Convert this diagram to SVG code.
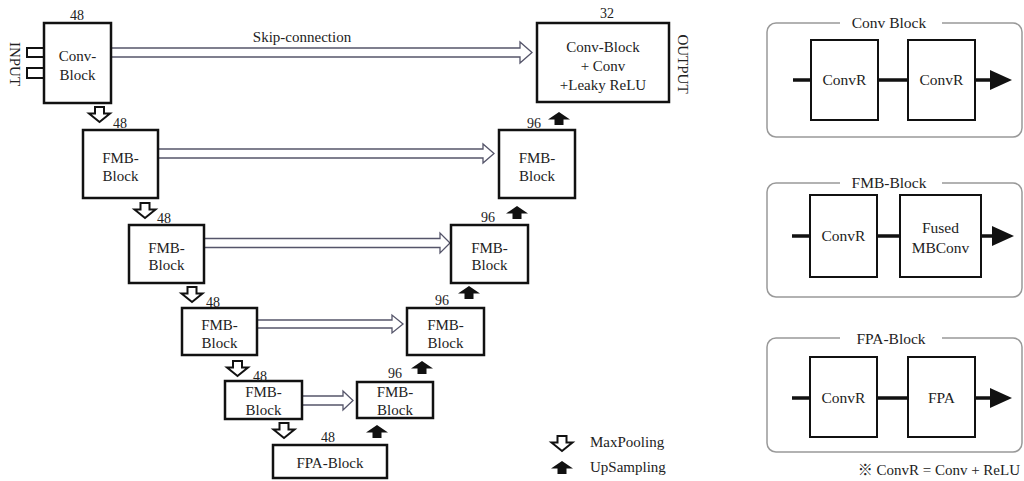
<svg xmlns="http://www.w3.org/2000/svg" xmlns:xlink="http://www.w3.org/1999/xlink" width="1024" height="481" viewBox="0 0 1024 481">
<style>
text{font-family:'Liberation Serif','Times New Roman','DejaVu Serif',serif;fill:#222;}
.cjk{font-family:'Noto Sans CJK JP','Liberation Serif',serif;}
.t{font-size:15px;text-anchor:middle;}
.n{font-size:14px;text-anchor:middle;}
.p{font-size:15.5px;text-anchor:middle;}
.box{fill:#fff;stroke:#111;stroke-width:2.5;}
.pbox{fill:#fff;stroke:#111;stroke-width:2;}
.skip{fill:#fff;stroke:#55556a;stroke-width:1.3;}
.panel{fill:none;stroke:#999;stroke-width:1.5;}
.wire{stroke:#111;stroke-width:3.5;fill:none;}
</style>
<defs>
<path id="down" d="M-4.5,0 H4.5 V6.5 H10.5 L0,15 L-10.5,6.5 H-4.5 Z" fill="#fff" stroke="#111" stroke-width="2"/>
<path id="up" d="M0,0 L11,7.5 H4.5 V13 H-4.5 V7.5 H-11 Z" fill="#111"/>
<path id="head" d="M0,-10 L22,0 L0,10 Z" fill="#111"/>
</defs>
<rect width="1024" height="481" fill="#fff"/>

<g id="connectors">
<path class="skip" d="M111,48 H520 V42 L532,52.5 L520,63 V57 H111"/>
<path class="skip" d="M158,149 H483 V144 L494,153.5 L483,163 V158 H158"/>
<path class="skip" d="M204,238.5 H440 V233 L450,243 L440,253 V247.5 H204"/>
<path class="skip" d="M257,320 H392 V315 L403,324 L392,333 V328 H257"/>
<path class="skip" d="M302,396 H343 V391 L353,400.5 L343,410 V405 H302"/>
<use xlink:href="#down" transform="translate(99.5,107)"/>
<use xlink:href="#down" transform="translate(145,203)"/>
<use xlink:href="#down" transform="translate(192,287)"/>
<use xlink:href="#down" transform="translate(237.5,361)"/>
<use xlink:href="#down" transform="translate(284,423)"/>
<use xlink:href="#up" transform="translate(559,112)"/>
<use xlink:href="#up" transform="translate(517,206)"/>
<use xlink:href="#up" transform="translate(469,286)"/>
<use xlink:href="#up" transform="translate(422,361)"/>
<use xlink:href="#up" transform="translate(377,425)"/>
<text class="t" x="302" y="42">Skip-connection</text>
</g>

<g id="input">
<path d="M43,48 H27 V57 H43 M43,68 H27 V78 H43" fill="none" stroke="#111" stroke-width="2"/>
<text class="t" transform="translate(15,64) rotate(90)" y="5">INPUT</text>
</g>

<g id="conv-block">
<rect class="box" x="44" y="23" width="67" height="80"/>
<text class="n" x="77" y="20">48</text>
<text class="t" x="77.5" y="61">Conv-</text>
<text class="t" x="77.5" y="80">Block</text>
</g>

<g id="output-block">
<rect class="box" x="537" y="23" width="132" height="79"/>
<text class="n" x="607" y="18">32</text>
<text class="t" x="603" y="52">Conv-Block</text>
<text class="t" x="603" y="71">+ Conv</text>
<text class="t" x="603" y="90">+Leaky ReLU</text>
<text class="t" transform="translate(683,64) rotate(90)" y="5">OUTPUT</text>
</g>

<g id="enc1">
<rect class="box" x="83" y="130" width="75" height="68"/>
<text class="n" x="120" y="128">48</text>
<text class="t" x="120.5" y="163">FMB-</text>
<text class="t" x="120.5" y="181">Block</text>
</g>
<g id="enc2">
<rect class="box" x="129" y="225" width="75" height="58"/>
<text class="n" x="164" y="223">48</text>
<text class="t" x="166.5" y="253">FMB-</text>
<text class="t" x="166.5" y="270">Block</text>
</g>
<g id="enc3">
<rect class="box" x="182" y="308" width="75" height="47"/>
<text class="n" x="213" y="307">48</text>
<text class="t" x="219.5" y="330">FMB-</text>
<text class="t" x="219.5" y="348">Block</text>
</g>
<g id="enc4">
<rect class="box" x="225" y="381" width="77" height="38"/>
<text class="n" x="260" y="381">48</text>
<text class="t" x="263.5" y="397">FMB-</text>
<text class="t" x="263.5" y="415">Block</text>
</g>
<g id="fpa-block">
<rect class="box" x="273" y="445" width="114" height="33"/>
<text class="n" x="328" y="442">48</text>
<text class="t" x="330" y="468">FPA-Block</text>
</g>

<g id="dec4">
<rect class="box" x="357" y="382" width="76" height="36"/>
<text class="n" x="395" y="378">96</text>
<text class="t" x="395" y="397">FMB-</text>
<text class="t" x="395" y="415">Block</text>
</g>
<g id="dec3">
<rect class="box" x="407" y="308" width="77" height="47"/>
<text class="n" x="442" y="305">96</text>
<text class="t" x="445.5" y="330">FMB-</text>
<text class="t" x="445.5" y="348">Block</text>
</g>
<g id="dec2">
<rect class="box" x="451" y="225" width="77" height="58"/>
<text class="n" x="488" y="222">96</text>
<text class="t" x="489.5" y="253">FMB-</text>
<text class="t" x="489.5" y="270">Block</text>
</g>
<g id="dec1">
<rect class="box" x="499" y="130" width="76" height="68"/>
<text class="n" x="534" y="128">96</text>
<text class="t" x="537" y="163">FMB-</text>
<text class="t" x="537" y="181">Block</text>
</g>

<g id="legend">
<use xlink:href="#down" transform="translate(562,436)"/>
<text x="590" y="447" style="font-size:15px">MaxPooling</text>
<use xlink:href="#up" transform="translate(562,461)"/>
<text x="590" y="472" style="font-size:15px">UpSampling</text>
</g>

<g id="panel-conv">
<rect class="panel" x="767" y="23" width="255" height="114" rx="9"/>
<rect x="840" y="12" width="102" height="20" fill="#fff"/>
<text class="p" x="889" y="28">Conv Block</text>
<path class="wire" d="M793,80 H811 M878,80 H908 M975,80 H991"/>
<use xlink:href="#head" transform="translate(990,80)"/>
<rect class="pbox" x="811" y="40" width="67" height="80"/>
<text class="p" x="844.5" y="85">ConvR</text>
<rect class="pbox" x="908" y="40" width="67" height="80"/>
<text class="p" x="941.5" y="85">ConvR</text>
</g>

<g id="panel-fmb">
<rect class="panel" x="767" y="183" width="255" height="114" rx="9"/>
<rect x="840" y="172" width="102" height="20" fill="#fff"/>
<text class="p" x="889" y="188">FMB-Block</text>
<path class="wire" d="M792,236 H810 M877,236 H900 M981,236 H994"/>
<use xlink:href="#head" transform="translate(992,236)"/>
<rect class="pbox" x="810" y="195" width="67" height="82"/>
<text class="p" x="843.5" y="241">ConvR</text>
<rect class="pbox" x="900" y="195" width="81" height="82"/>
<text class="p" x="940.5" y="233">Fused</text>
<text class="p" x="940.5" y="253">MBConv</text>
</g>

<g id="panel-fpa">
<rect class="panel" x="767" y="338" width="255" height="114" rx="9"/>
<rect x="840" y="327" width="102" height="20" fill="#fff"/>
<text class="p" x="891" y="344">FPA-Block</text>
<path class="wire" d="M792,398 H810 M877,398 H908 M975,398 H991"/>
<use xlink:href="#head" transform="translate(990,398)"/>
<rect class="pbox" x="810" y="357" width="67" height="80"/>
<text class="p" x="843.5" y="403">ConvR</text>
<rect class="pbox" x="908" y="357" width="67" height="80"/>
<text class="p" x="941.5" y="403">FPA</text>
</g>

<text x="1020" y="475" style="font-size:15px;text-anchor:end"><tspan class="cjk">※</tspan> ConvR = Conv + ReLU</text>
</svg>
